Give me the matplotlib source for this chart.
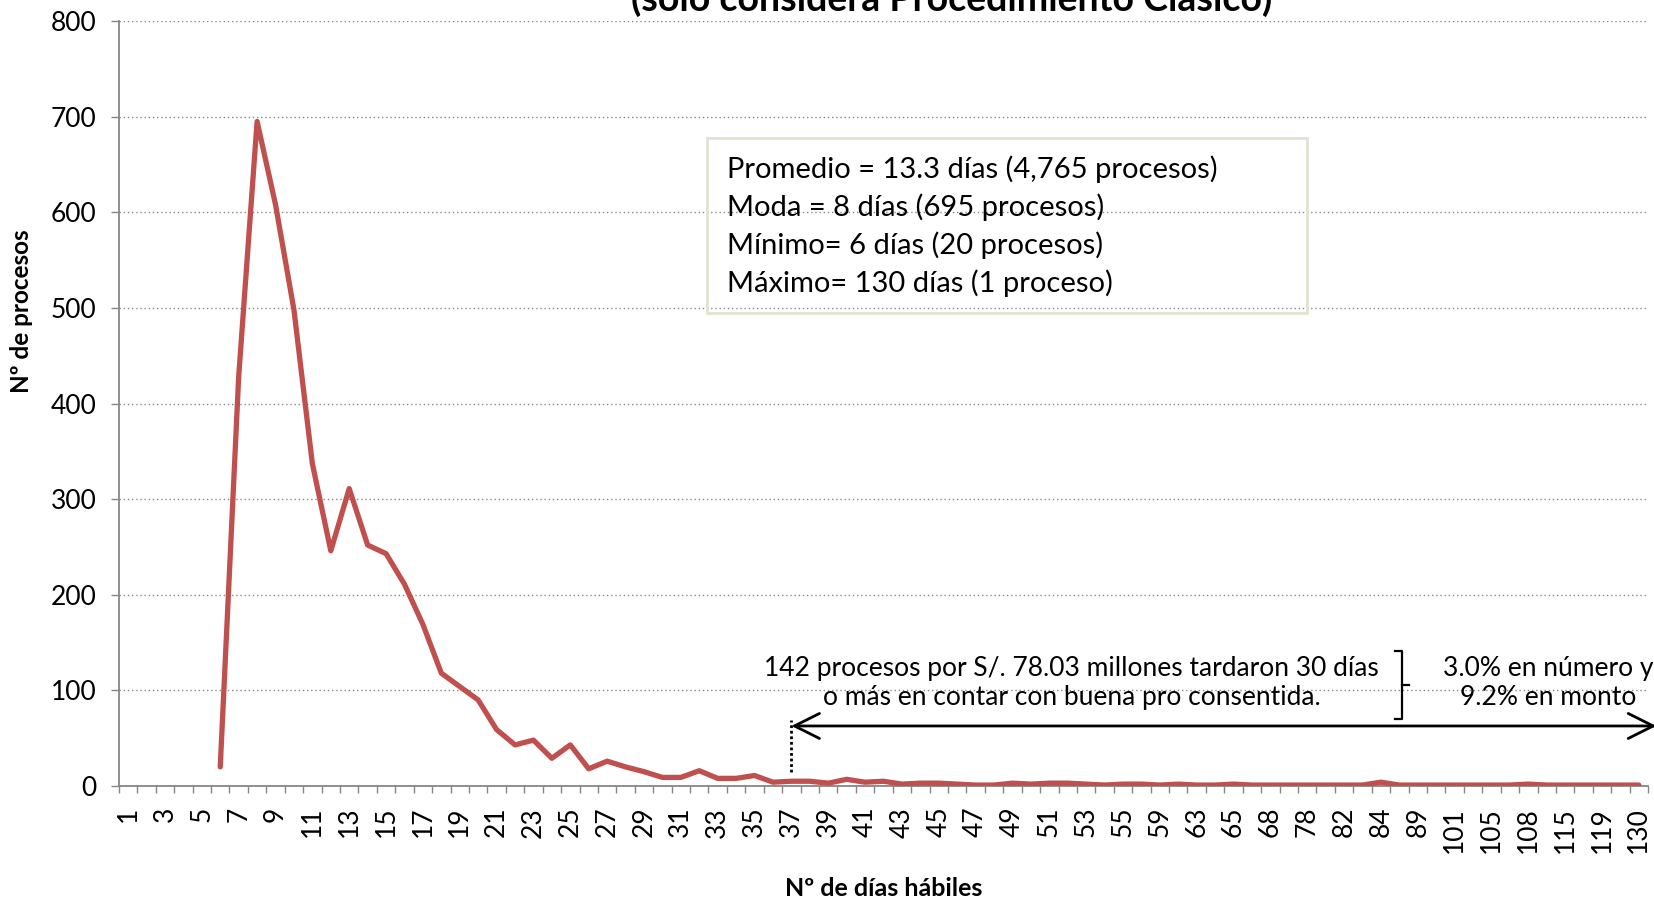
import numpy as np
import matplotlib
matplotlib.use("Agg")
from matplotlib import pyplot as plt
from matplotlib.patches import Rectangle

plt.rcParams['font.family'] = ['Lato', 'DejaVu Sans']

# business days until "buena pro consentida" (categories of the x axis)
dias = list(range(1, 56)) + [57, 59, 61, 63, 64, 65, 66, 68, 70, 78, 80, 82, 83,
                             84, 86, 89, 95, 101, 103, 105, 106, 108, 110, 115,
                             117, 119, 125, 130]

# number of processes per category (days 1-5 have no processes)
procesos = [np.nan] * 5 + [
    20, 428, 695, 608, 498, 337, 246, 311, 252, 243,
    211, 169, 118, 104, 90, 59, 43, 48, 29, 43,
    18, 26, 20, 15, 9, 9, 16, 8, 8, 11,
    4, 5, 5, 3, 7, 4, 5, 2, 3, 3,
    2, 1, 1, 3, 2, 3, 3, 2, 1, 2,
    2, 1, 2, 1, 1, 2, 1, 1, 1, 1,
    1, 1, 1, 4, 1, 1, 1, 1, 1, 1,
    1, 2, 1, 1, 1, 1, 1, 1]

resumen = ["Promedio = 13.3 días (4,765 procesos)",
           "Moda = 8 días (695 procesos)",
           "Mínimo= 6 días (20 procesos)",
           "Máximo= 130 días (1 proceso)"]

nota = "142 procesos por S/. 78.03 millones tardaron 30 días\no más en contar con buena pro consentida."
nota_pct = "3.0% en número y\n9.2% en monto"

red = '#C0504D'
gray = '#868686'

fig = plt.figure(figsize=(16.54, 8.98), dpi=100)
ax = fig.add_axes([0.0719, 0.1247, 0.9245, 0.8519])

x = np.arange(len(dias))
ax.plot(x, procesos, color=red, lw=3.8, solid_joinstyle='round',
        solid_capstyle='round', zorder=3)

ax.set_xlim(-0.5, len(dias) - 0.5)
ax.set_ylim(0, 800)
ax.set_yticks(range(0, 801, 100))

ax.set_xticks(x[::2])
ax.set_xticklabels([str(d) for d in dias[::2]], rotation=90)
ax.set_xticks(np.arange(-0.5, len(dias), 1), minor=True)
ax.tick_params(axis='x', which='major', length=0, pad=15, labelsize=19)
ax.tick_params(axis='x', which='minor', length=5, width=1, color=gray)
ax.tick_params(axis='y', length=6, width=1, color=gray, pad=10, labelsize=19)

for s in ['top', 'right']:
    ax.spines[s].set_visible(False)
for s in ['left', 'bottom']:
    ax.spines[s].set_color(gray)
    ax.spines[s].set_linewidth(1.3)

ax.yaxis.grid(True, linestyle=(0, (1, 2)), color=gray, lw=1)
ax.set_axisbelow(True)

fig.text(0.0127, 0.654, "Nº de procesos", rotation=90, ha='center', va='center',
         fontsize=17.5, fontweight='bold')
fig.text(0.534, 0.011, "Nº de días hábiles", ha='center', va='center',
         fontsize=18, fontweight='bold')
fig.text(0.5756, 1 - 11 / 898, "(solo considera Procedimiento Clásico)",
         ha='center', va='baseline', fontsize=27, fontweight='bold')

# summary box
ax.add_patch(Rectangle((31.4, 494.8), 32.6, 183.0, fill=False,
                       edgecolor='#E2E2D2', lw=2, zorder=4))
for k, linea in enumerate(resumen):
    ax.text(32.5, 645.4 - 40.0 * k, linea, ha='left', va='center', fontsize=21,
            zorder=5)

# note on late processes
ax.text(51.2, 108, nota, ha='center', va='center', fontsize=19,
        linespacing=1.2, zorder=5)
ax.text(77.1, 108, nota_pct, ha='center', va='center', fontsize=19,
        linespacing=1.2, zorder=5, clip_on=False)
ax.plot([68.79, 69.17, 69.17, 68.79], [141.2, 141.2, 70.1, 70.1],
        color='black', lw=1.6, clip_on=False, zorder=5)
ax.plot([69.17, 69.55], [105.6, 105.6], color='black', lw=1.6,
        clip_on=False, zorder=5)

inicio = dias.index(37)
ax.plot([inicio, inicio], [14.6, 69], color='black', lw=2,
        linestyle=(0, (1, 1)), zorder=5)
ax.annotate('', xy=(82.95, 62.8), xytext=(inicio, 62.8),
            arrowprops=dict(arrowstyle='<->,head_length=0.9,head_width=0.45',
                            lw=2, color='black', shrinkA=0, shrinkB=0,
                            mutation_scale=20),
            annotation_clip=False, zorder=5)

fig.savefig("out.png", dpi=100)
